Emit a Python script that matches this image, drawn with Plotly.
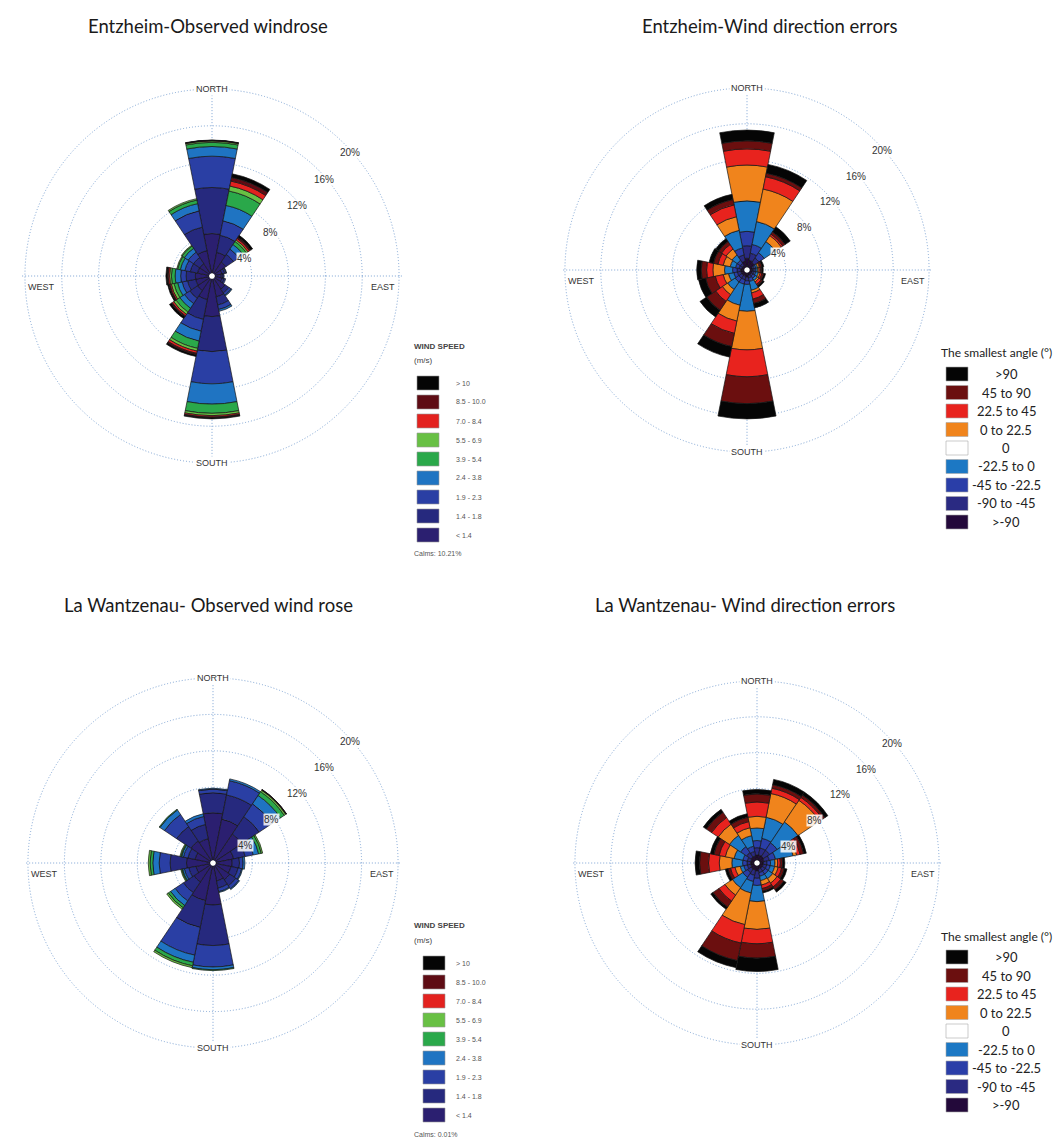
import math
import plotly.graph_objects as go

W, H = 1064, 1140

# 16 wind sectors (degrees from north, clockwise)
DIRS = [0, 22.5, 45, 67.5, 90, 112.5, 135, 157.5, 180, 202.5, 225, 247.5, 270, 292.5, 315, 337.5]

# ---- wind speed classes (inner -> outer), % frequency per sector
SPEED_LABELS = ['< 1.4', '1.4 - 1.8', '1.9 - 2.3', '2.4 - 3.8', '3.9 - 5.4',
                '5.5 - 6.9', '7.0 - 8.4', '8.5 - 10.0', '> 10']
SPEED_COLORS = ['#2b1f70', '#26297e', '#2a3fa4', '#1f74c2', '#2aa84a',
                '#68c044', '#e3221f', '#5e0c14', '#050505']

# Entzheim observed
ENTZ_OBS = [
    [4.3, 2.3, 1.5, 0.8, 0.7, 0.8, 1.4, 2.0, 4.1, 2.3, 1.6, 1.5, 1.5, 1.3, 1.3, 2.5],
    [5.0, 1.9, 1.0, 0.3, 0.2, 0.25, 0.5, 0.9, 3.8, 2.2, 1.0, 0.9, 1.0, 0.8, 0.8, 2.6],
    [3.4, 1.6, 0.7, 0.15, 0.1, 0.15, 0.3, 0.5, 3.5, 1.3, 0.7, 0.6, 0.6, 0.6, 0.7, 1.8],
    [1.05, 1.7, 0.6, 0.05, 0, 0, 0.1, 0.2, 2.2, 1.1, 0.6, 0.5, 0.6, 0.5, 0.5, 0.8],
    [0.45, 1.6, 0.4, 0, 0, 0, 0, 0, 1.0, 0.8, 0.5, 0.4, 0.4, 0.3, 0.3, 0.4],
    [0.15, 0.55, 0.2, 0, 0, 0, 0, 0, 0.25, 0.3, 0.3, 0.3, 0.2, 0.1, 0.1, 0.15],
    [0.05, 0.55, 0.2, 0, 0, 0, 0, 0, 0.15, 0.25, 0.2, 0.15, 0.15, 0, 0, 0],
    [0.02, 0.4, 0.15, 0, 0, 0, 0, 0, 0.1, 0.15, 0.1, 0.1, 0.1, 0, 0, 0],
    [0.03, 0.4, 0.25, 0, 0, 0, 0, 0, 0.1, 0.2, 0.25, 0.15, 0.15, 0, 0, 0],
]

# La Wantzenau observed
WANTZ_OBS = [
    [5.2, 4.6, 3.5, 2.0, 1.8, 1.7, 1.9, 1.7, 4.3, 3.9, 2.2, 1.6, 2.6, 1.7, 2.6, 2.4],
    [2.2, 2.7, 2.3, 1.3, 0.8, 0.8, 0.8, 0.8, 4.45, 3.0, 1.4, 0.8, 1.8, 0.8, 1.9, 1.6],
    [0.4, 1.6, 1.7, 0.9, 0.4, 0.4, 0.4, 0.4, 2.35, 3.1, 1.1, 0.5, 1.2, 0.5, 1.6, 0.9],
    [0.1, 0.2, 1.1, 0.6, 0.2, 0.1, 0.1, 0.1, 0.3, 0.8, 0.6, 0.2, 0.7, 0.2, 0.6, 0.3],
    [0, 0, 0.5, 0.3, 0, 0, 0, 0, 0.1, 0.4, 0.3, 0.1, 0.3, 0.1, 0.1, 0],
    [0, 0, 0.2, 0.15, 0, 0, 0, 0, 0, 0.2, 0.2, 0.1, 0.2, 0.1, 0, 0],
    [0, 0, 0.05, 0, 0, 0, 0, 0, 0, 0, 0, 0, 0, 0, 0, 0],
    [0, 0, 0.03, 0, 0, 0, 0, 0, 0, 0, 0, 0, 0, 0, 0, 0],
    [0, 0, 0.02, 0, 0, 0, 0, 0, 0, 0, 0, 0, 0, 0, 0, 0],
]

# ---- direction error classes (inner -> outer)
ERR_LABELS = ['>-90', '-90 to -45', '-45 to -22.5', '-22.5 to 0', '0',
              '0 to 22.5', '22.5 to 45', '45 to 90', '>90']
ERR_COLORS = ['#23093a', '#2a2a82', '#2a3ea8', '#1c78c4', '#ffffff',
              '#f0841c', '#e8231e', '#6b0f0f', '#050505']

ENTZ_ERR = [
    [1.0, 0.8, 0.7, 0.3, 0.3, 0.3, 0.3, 0.3, 0.5, 0.4, 0.4, 0.4, 0.4, 0.3, 0.3, 0.7],
    [1.4, 0.8, 0.6, 0.2, 0.2, 0.2, 0.2, 0.3, 0.4, 0.4, 0.4, 0.4, 0.4, 0.3, 0.3, 0.7],
    [1.6, 1.0, 0.7, 0.2, 0.2, 0.2, 0.3, 0.4, 0.4, 0.5, 0.5, 0.4, 0.5, 0.4, 0.4, 0.8],
    [3.4, 2.6, 1.5, 0.2, 0.2, 0.3, 0.3, 1.0, 3.0, 2.4, 1.0, 0.6, 0.9, 0.6, 0.7, 2.0],
    [0, 0, 0, 0, 0, 0, 0, 0, 0, 0, 0, 0, 0, 0, 0, 0],
    [4.0, 3.7, 0.8, 0.2, 0.15, 0.2, 0.2, 0.3, 4.3, 1.8, 0.7, 0.6, 1.3, 0.8, 0.8, 1.55],
    [1.8, 1.4, 0.2, 0.1, 0.15, 0.2, 0.3, 0.7, 3.0, 1.4, 0.9, 0.9, 0.7, 0.6, 0.6, 1.35],
    [0.9, 0.4, 0.3, 0.2, 0.15, 0.2, 0.2, 0.5, 3.0, 1.5, 1.2, 1.1, 0.6, 0.5, 0.4, 0.6],
    [1.2, 1.0, 0.7, 0.2, 0.15, 0.2, 0.2, 0.5, 1.7, 1.2, 0.9, 0.8, 0.5, 0.5, 0.4, 0.6],
]

WANTZ_ERR = [
    [0.6, 0.6, 0.6, 0.5, 0.4, 0.4, 0.4, 0.4, 0.6, 0.5, 0.5, 0.4, 0.4, 0.4, 0.5, 0.5],
    [0.8, 0.8, 0.8, 0.6, 0.4, 0.4, 0.4, 0.4, 0.8, 0.6, 0.5, 0.4, 0.4, 0.4, 0.6, 0.5],
    [0.8, 1.1, 1.0, 0.7, 0.4, 0.4, 0.4, 0.4, 0.8, 0.7, 0.6, 0.4, 0.5, 0.5, 0.8, 0.6],
    [1.4, 2.4, 2.8, 2.0, 0.5, 0.5, 0.6, 0.5, 1.8, 1.3, 1.4, 0.4, 1.2, 1.0, 1.5, 1.2],
    [0, 0, 0, 0, 0, 0, 0, 0, 0, 0, 0, 0, 0, 0, 0, 0],
    [1.3, 2.7, 2.9, 0.4, 0.3, 0.4, 0.6, 0.5, 3.1, 3.6, 1.0, 0.6, 1.4, 1.0, 1.5, 0.9],
    [1.6, 0.6, 0.4, 0.4, 0.3, 0.4, 0.5, 0.4, 1.6, 2.1, 0.8, 0.5, 1.2, 0.7, 0.9, 0.7],
    [0.9, 0.4, 0.3, 0.4, 0.25, 0.3, 0.4, 0.3, 1.6, 2.0, 0.8, 0.3, 1.0, 0.6, 0.7, 0.5],
    [0.5, 0.6, 0.4, 0.3, 0.25, 0.3, 0.3, 0.2, 1.5, 0.8, 0.3, 0.3, 0.5, 0.4, 0.4, 0.4],
]

RINGS = [4, 8, 12, 16, 20]
RING_LABELS = ['4%', '8%', '12%', '16%', '20%']
RMAX = 20.4
GRID = '#7ea4d4'


def px(x):
    return x / W


def py(y):
    return 1 - y / H


fig = go.Figure()

roses = [
    dict(title='Entzheim-Observed windrose', cx=204, cy=268, r20=187, data=ENTZ_OBS, colors=SPEED_COLORS, tx=200, ty=18),
    dict(title='Entzheim-Wind direction errors', cx=739, cy=262, r20=182, data=ENTZ_ERR, colors=ERR_COLORS, tx=762, ty=18),
    dict(title='La Wantzenau- Observed wind rose', cx=205, cy=855, r20=185, data=WANTZ_OBS, colors=SPEED_COLORS, tx=200, ty=597),
    dict(title='La Wantzenau- Wind direction errors', cx=749, cy=855, r20=182, data=WANTZ_ERR, colors=ERR_COLORS, tx=737, ty=597),
]

ann = []
shapes = []
for i, rose in enumerate(roses):
    key = 'polar' if i == 0 else f'polar{i + 1}'
    cx, cy, r20 = rose['cx'], rose['cy'], rose['r20']
    rd = r20 * RMAX / 20
    fig.update_layout({key: dict(
        domain=dict(x=[px(cx - rd), px(cx + rd)], y=[py(cy + rd), py(cy - rd)]),
        bgcolor='white',
        barmode='stack',
        bargap=0,
        hole=0.015,
        angularaxis=dict(rotation=90, direction='clockwise', tickvals=[0, 90, 180, 270],
                         showticklabels=False, ticks='', showline=False,
                         gridcolor=GRID, griddash='1px,2px', gridwidth=1.2),
        radialaxis=dict(range=[0, RMAX], tickvals=RINGS, showticklabels=False,
                        showline=False, ticks='', gridcolor=GRID, griddash='1px,2px', gridwidth=1.2),
    )})
    for series, color in zip(rose['data'], rose['colors']):
        fig.add_trace(go.Barpolar(
            r=series, theta=DIRS, width=22.5, subplot=key,
            marker=dict(color=color, line=dict(color='#151515', width=0.7)),
            showlegend=False, hoverinfo='skip'))

    # ring labels, placed just below the 45 degree point of each ring
    for ring, text in zip(RINGS, RING_LABELS):
        rp = ring / 20 * r20
        lx = cx + rp * math.sin(math.radians(45)) + 6
        ly = cy - rp * math.cos(math.radians(45)) + 9
        ann.append(dict(showarrow=False, xref='paper', yref='paper', text=text,
                        x=px(lx), y=py(ly), xanchor='center', yanchor='middle',
                        bgcolor='rgba(255,255,255,0.85)', borderpad=0,
                        font=dict(size=10, color='#333', family='Liberation Sans')))

    lab = dict(showarrow=False, xref='paper', yref='paper',
               font=dict(size=9, color='#333', family='Liberation Sans'))
    ann.append(dict(lab, text='NORTH', x=px(cx), y=py(cy - r20), xanchor='center', yanchor='middle', bgcolor='white'))
    ann.append(dict(lab, text='SOUTH', x=px(cx), y=py(cy + r20), xanchor='center', yanchor='middle', bgcolor='white'))
    ann.append(dict(lab, text='WEST', x=px(cx - r20 + 1), y=py(cy + 4), xanchor='left', yanchor='top'))
    ann.append(dict(lab, text='EAST', x=px(cx + r20 - 2), y=py(cy + 4), xanchor='right', yanchor='top'))
    ann.append(dict(showarrow=False, xref='paper', yref='paper', text=rose['title'],
                    x=px(rose['tx']), y=py(rose['ty']), xanchor='center', yanchor='middle',
                    font=dict(size=18.5, color='#1a1a1a', family='Lato')))

# ---- wind speed legends
for top, sq_x, calm in [(338, 409, 'Calms: 10.21%'), (918, 415, 'Calms: 0.01%')]:
    small = dict(showarrow=False, xref='paper', yref='paper', xanchor='left', yanchor='middle',
                 font=dict(size=8, color='#444', family='Liberation Sans'))
    ann.append(dict(small, text='<b>WIND SPEED</b>', x=px(404), y=py(top)))
    ann.append(dict(small, text='(m/s)', x=px(404), y=py(top + 14)))
    for k, (label, color) in enumerate(zip(SPEED_LABELS[::-1], SPEED_COLORS[::-1])):
        yc = top + 37 + 19 * k
        shapes.append(dict(type='rect', xref='paper', yref='paper',
                           x0=px(sq_x), x1=px(sq_x + 22), y0=py(yc + 7), y1=py(yc - 7),
                           fillcolor=color, line=dict(color='#999', width=0.6)))
        ann.append(dict(small, text=label, x=px(446), y=py(yc),
                        font=dict(size=7, color='#555', family='Liberation Sans')))
    ann.append(dict(small, text=calm, x=px(404), y=py(top + 208),
                    font=dict(size=7, color='#555', family='Liberation Sans')))

# ---- direction error legends
for top in [345, 928]:
    ann.append(dict(showarrow=False, xref='paper', yref='paper', text='The smallest angle (°)',
                    x=px(931), y=py(top), xanchor='left', yanchor='middle',
                    font=dict(size=12, color='#222', family='Lato')))
    for k, (label, color) in enumerate(zip(ERR_LABELS[::-1], ERR_COLORS[::-1])):
        yc = top + 21 + 18.5 * k
        shapes.append(dict(type='rect', xref='paper', yref='paper',
                           x0=px(938), x1=px(960), y0=py(yc + 7), y1=py(yc - 7),
                           fillcolor=color, line=dict(color='#aaa', width=0.6)))
        ann.append(dict(showarrow=False, xref='paper', yref='paper', text=label,
                        x=px(998), y=py(yc), xanchor='center', yanchor='middle',
                        font=dict(size=13, color='#222', family='Lato')))

fig.update_layout(
    width=W, height=H,
    margin=dict(l=0, r=0, t=0, b=0),
    paper_bgcolor='white',
    annotations=ann,
    shapes=shapes,
    showlegend=False,
)

fig.write_html('out.html')
